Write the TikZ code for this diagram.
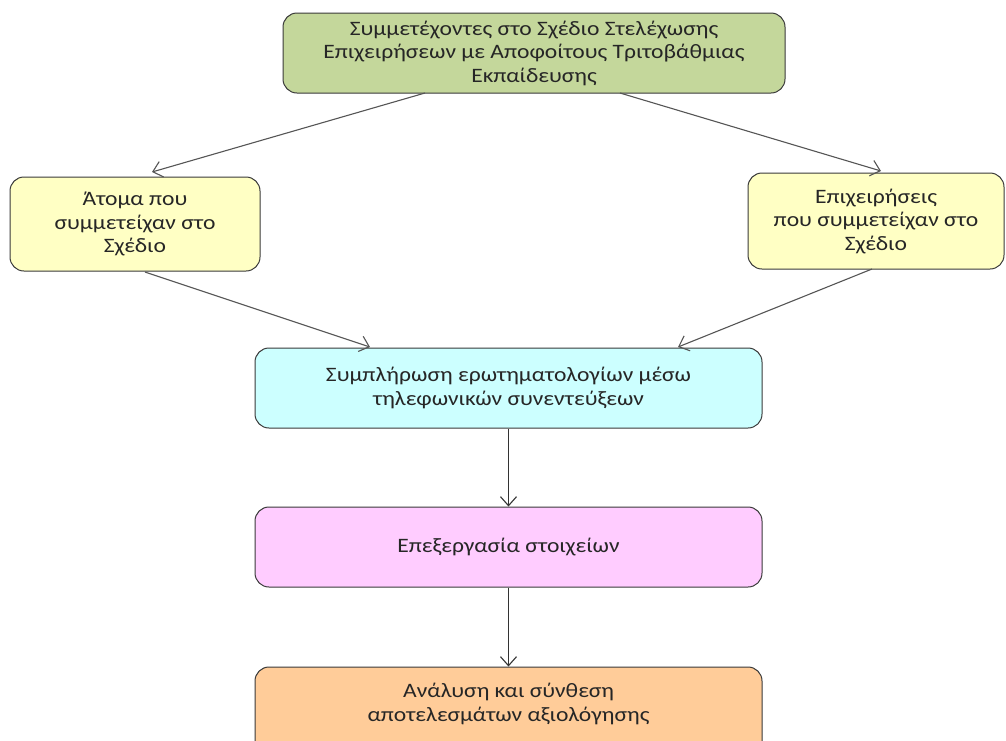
\documentclass[tikz,border=0pt]{standalone}
\usepackage{fontspec}
\setmainfont{Carlito}
\newfontfamily\boxfont[FakeStretch=1.15]{Carlito}
\usetikzlibrary{arrows.meta}
\definecolor{cgreen}{HTML}{C4D79B}
\definecolor{cyellow}{HTML}{FFFFC4}
\definecolor{ccyan}{HTML}{CCFFFF}
\definecolor{cpink}{HTML}{FFCCFF}
\definecolor{corange}{HTML}{FFCC99}
\definecolor{cline}{HTML}{555555}
\definecolor{cborder}{HTML}{3A3A3A}
\tikzset{
  boxtext/.style={align=center, font=\boxfont\fontsize{20.5}{23.5}\selectfont, text=black!85},
  box/.style={draw=cborder, line width=1pt, rounded corners=14pt, inner sep=0pt, boxtext},
  conn/.style={draw=cline, line width=1.1pt, -{Straight Barb[length=9pt,width=16pt,line width=1.1pt]}},
}
\begin{document}
\begin{tikzpicture}[x=1pt,y=-1pt]
\useasboundingbox[fill=white] (0,0) rectangle (1006,740);
\node[box, fill=cgreen, minimum width=502pt, minimum height=80pt] (top) at (534,53)
  {Συμμετέχοντες στο Σχέδιο Στελέχωσης\\Επιχειρήσεων με Αποφοίτους Τριτοβάθμιας\\Εκπαίδευσης};
\node[box, fill=cyellow, minimum width=250pt, minimum height=94pt] (left) at (135,224)
  {Άτομα που\\συμμετείχαν στο\\Σχέδιο};
\node[box, fill=cyellow, minimum width=256pt, minimum height=96pt] (right) at (876,221)
  {Επιχειρήσεις\\που συμμετείχαν στο\\Σχέδιο};
\node[box, fill=ccyan, minimum width=507pt, minimum height=80pt] (mid) at (508.5,388)
  {Συμπλήρωση ερωτηματολογίων μέσω\\τηλεφωνικών συνεντεύξεων};
\node[box, fill=cpink, minimum width=507pt, minimum height=80pt] (proc) at (508.5,547)
  {Επεξεργασία στοιχείων};
\node[box, fill=corange, minimum width=507pt, minimum height=110pt] (ana) at (508.5,722)
  {};
\node[boxtext] (anatext) at (508.5,704)
  {Ανάλυση και σύνθεση\\αποτελεσμάτων αξιολόγησης};
\coordinate (t1) at (425,93);
\coordinate (t2) at (620,93);
\coordinate (l1) at (145,272);
\coordinate (r1) at (872,269);
\coordinate (m1) at (370,347);
\coordinate (m2) at (678,347);
\draw[conn] (t1) -- (152,172) coordinate (lt);
\draw[conn] (t2) -- (881,171) coordinate (rt);
\draw[conn] (l1) -- (m1);
\draw[conn] (r1) -- (m2);
\draw[conn, draw=black!80] (mid.south) -- (proc.north);
\draw[conn, draw=black!80] (proc.south) -- (ana.north);
\end{tikzpicture}
\end{document}
